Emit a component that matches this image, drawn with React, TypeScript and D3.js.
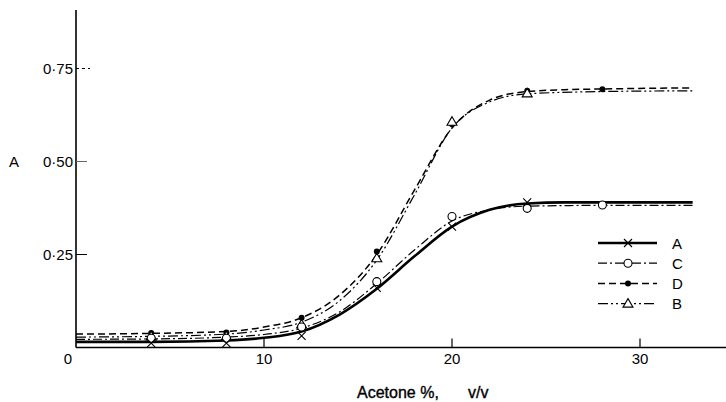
import React from "react";
import * as d3 from "d3";

// Measured data points (acetone %, absorbance)
const pointsA: [number, number][] = [[4, 0.012], [8, 0.012], [12, 0.031], [16, 0.16], [20, 0.325], [24, 0.39]];
const pointsC: [number, number][] = [[4, 0.025], [8, 0.025], [12, 0.055], [16, 0.177], [20, 0.352], [24, 0.374], [28, 0.383]];
const pointsD: [number, number][] = [[4, 0.039], [8, 0.04], [12, 0.08], [16, 0.258], [20, 0.6], [24, 0.69], [28, 0.694]];
const pointsB: [number, number][] = [[4, 0.03], [8, 0.03], [12, 0.062], [16, 0.24], [20, 0.607], [24, 0.683]];

// Hand-drawn fitted curves
const curveA: [number, number][] = [[0, 0.015], [4, 0.015], [8, 0.019], [10, 0.026], [12, 0.043], [14, 0.088], [16, 0.158], [18, 0.245], [20, 0.325], [22, 0.37], [24, 0.387], [26, 0.39], [28, 0.39], [32.8, 0.39]];
const curveC: [number, number][] = [[0, 0.022], [4, 0.023], [8, 0.028], [10, 0.035], [12, 0.052], [14, 0.095], [16, 0.172], [18, 0.262], [20, 0.34], [22, 0.37], [24, 0.38], [28, 0.382], [32.8, 0.382]];
const curveD: [number, number][] = [[0, 0.036], [4, 0.038], [8, 0.043], [10, 0.055], [12, 0.08], [14, 0.14], [16, 0.25], [18, 0.423], [20, 0.59], [22, 0.665], [24, 0.688], [26, 0.693], [28, 0.695], [32.8, 0.698]];
const curveB: [number, number][] = [[0, 0.028], [4, 0.03], [8, 0.036], [10, 0.047], [12, 0.068], [14, 0.125], [16, 0.235], [18, 0.41], [20, 0.59], [22, 0.66], [24, 0.682], [28, 0.688], [32.8, 0.69]];

const xTicks = [10, 20, 30];
const yTicks = [0.25, 0.5, 0.75];
const yTickLabels = ["0·25", "0·50", "0·75"];
const legendNames = ["A", "C", "D", "B"];

const W = 726, H = 402;
const x = d3.scaleLinear().domain([0, 30]).range([76, 640]);
const y = d3.scaleLinear().domain([0, 0.75]).range([347.5, 68.5]);

const line = d3.line<[number, number]>().x(d => x(d[0])).y(d => y(d[1])).curve(d3.curveMonotoneX);

const styles: Record<string, { w: number; dash?: string }> = {
  A: { w: 2.6 },
  C: { w: 1.2, dash: "9,3,2,3" },
  D: { w: 1.5, dash: "7,4" },
  B: { w: 1.2, dash: "10,3,2,3,2,3" },
};

function Marker({ kind, cx, cy }: { kind: string; cx: number; cy: number }) {
  if (kind === "A") {
    const s = 4;
    return <path d={`M${cx - s},${cy - s}L${cx + s},${cy + s}M${cx - s},${cy + s}L${cx + s},${cy - s}`} stroke="#000" strokeWidth={1.1} fill="none" />;
  }
  if (kind === "C") return <circle cx={cx} cy={cy} r={4} fill="#fff" stroke="#000" strokeWidth={1.1} />;
  if (kind === "D") return <circle cx={cx} cy={cy} r={3} fill="#000" />;
  const s = 5;
  return <path d={`M${cx},${cy - s}L${cx + s},${cy + s * 0.7}L${cx - s},${cy + s * 0.7}Z`} fill="#fff" stroke="#000" strokeWidth={1.1} />;
}

export default function App() {
  const font = "'Liberation Sans', Arial, sans-serif";
  const series = [
    { k: "D", curve: curveD, pts: pointsD },
    { k: "B", curve: curveB, pts: pointsB },
    { k: "C", curve: curveC, pts: pointsC },
    { k: "A", curve: curveA, pts: pointsA },
  ];
  return (
    <svg width={W} height={H} style={{ position: "absolute", left: 0, top: 0, background: "#fff" }} fontFamily={font}>
      <rect width={W} height={H} fill="#fff" />
      {/* axes */}
      <line x1={x(0)} x2={x(0)} y1={10} y2={y(0)} stroke="#000" strokeWidth={1.6} />
      <line x1={x(0)} x2={W} y1={y(0)} y2={y(0)} stroke="#000" strokeWidth={1.6} />
      {xTicks.map(t => (
        <g key={t}>
          <line x1={x(t)} x2={x(t)} y1={y(0)} y2={y(0) - 9} stroke="#000" strokeWidth={1.2} />
          <text x={x(t)} y={364} textAnchor="middle" fontSize={15}>{t}</text>
        </g>
      ))}
      <text x={68} y={364} textAnchor="middle" fontSize={15}>0</text>
      {yTicks.map((t, i) => (
        <g key={t}>
          <line x1={x(0)} x2={x(0) + (i === 2 ? 14 : 11)} y1={y(t)} y2={y(t)} stroke={i === 1 ? "#666" : "#000"} strokeWidth={1} strokeDasharray={i === 2 ? "3,3" : undefined} />
          <text x={73} y={y(t) + 5} textAnchor="end" fontSize={15}>{yTickLabels[i]}</text>
        </g>
      ))}
      <text x={14} y={y(0.5) + 5.5} textAnchor="middle" fontSize={15}>A</text>
      <text x={357} y={398} fontSize={16} stroke="#000" strokeWidth={0.35}>Acetone %,</text>
      <text x={468} y={398} fontSize={16} stroke="#000" strokeWidth={0.35}>v/v</text>
      {/* curves */}
      {series.map(s => (
        <path key={s.k} d={line(s.curve) || ""} fill="none" stroke="#000" strokeWidth={styles[s.k].w} strokeDasharray={styles[s.k].dash} />
      ))}
      {series.map(s => s.pts.map((p, i) => <Marker key={s.k + i} kind={s.k} cx={x(p[0])} cy={y(p[1])} />))}
      {/* legend */}
      {legendNames.map((n, i) => {
        const ly = 243 + i * 20.2;
        return (
          <g key={n}>
            <line x1={598} x2={657} y1={ly} y2={ly} stroke="#000" strokeWidth={styles[n].w} strokeDasharray={styles[n].dash} />
            <Marker kind={n} cx={628} cy={ly} />
            <text x={672} y={ly + 5.5} fontSize={15}>{n}</text>
          </g>
        );
      })}
    </svg>
  );
}
